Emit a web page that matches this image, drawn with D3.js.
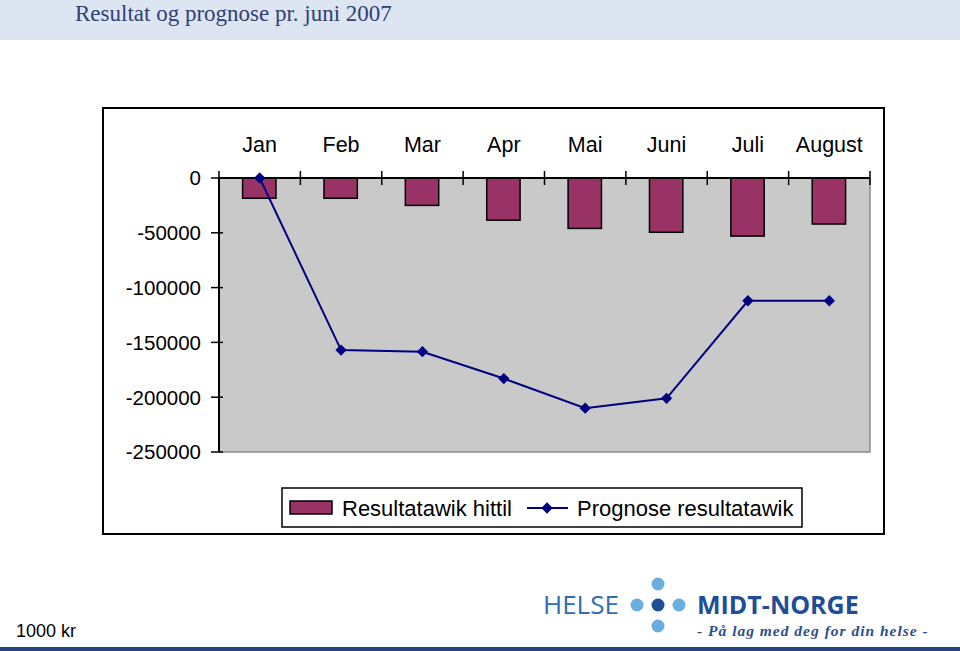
<!DOCTYPE html>
<html><head><meta charset="utf-8">
<script src="https://cdn.jsdelivr.net/npm/d3@7"></script>
<style>body{margin:0;background:#fff}svg{display:block}</style>
</head><body>
<script>
const months = ["Jan","Feb","Mar","Apr","Mai","Juni","Juli","August"];
const resultatHittil = [-18500,-18500,-25000,-38500,-46000,-49500,-53000,-42000];
const prognose = [0,-157000,-158500,-183000,-210000,-201000,-112000,-112000];
const yTicks = [0,-50000,-100000,-150000,-200000,-250000];
const seriesNames = ["Resultatawik hittil","Prognose resultatawik"];

const W=960,H=651;
const svg=d3.select("body").append("svg").attr("width",W).attr("height",H);

// header band
svg.append("rect").attr("x",0).attr("y",0).attr("width",W).attr("height",40).attr("fill","#dde5f3");
svg.append("text").attr("x",75).attr("y",21).attr("font-family","Liberation Serif, serif")
  .attr("font-size",23).attr("fill","#2f3f72").text("Resultat og prognose pr. juni 2007");

// chart frame
svg.append("rect").attr("x",103).attr("y",108).attr("width",781).attr("height",426)
  .attr("fill","#fff").attr("stroke","#000").attr("stroke-width",2);

const L=219,R=870,T=178,B=452;
const x=d3.scaleBand().domain(months).range([L,R]).padding(0);
const y=d3.scaleLinear().domain([0,-250000]).range([T,B]);
const bw=x.bandwidth();

// plot area
svg.append("rect").attr("x",L).attr("y",T).attr("width",R-L).attr("height",B-T).attr("fill","#c9c9c9");
svg.append("path").attr("d",`M${R},${T}V${B}H${L}`).attr("fill","none").attr("stroke","#8a8a8a").attr("stroke-width",1.5);

// bars
svg.selectAll("rect.bar").data(months).enter().append("rect").attr("class","bar")
  .attr("x",d=>x(d)+bw*0.29).attr("width",bw*0.41)
  .attr("y",y(0)).attr("height",(d,i)=>y(resultatHittil[i])-y(0))
  .attr("fill","#993366").attr("stroke","#000").attr("stroke-width",1.5);

// axes
svg.append("line").attr("x1",L).attr("x2",L).attr("y1",T).attr("y2",B).attr("stroke","#000").attr("stroke-width",2);
svg.append("line").attr("x1",L).attr("x2",R).attr("y1",y(0)).attr("y2",y(0)).attr("stroke","#000").attr("stroke-width",2);
const xb=months.map(m=>x(m)).concat([R]);
svg.selectAll("line.xt").data(xb).enter().append("line")
  .attr("x1",d=>d).attr("x2",d=>d).attr("y1",y(0)-7).attr("y2",y(0)+7).attr("stroke","#000").attr("stroke-width",1.5);
svg.selectAll("line.yt").data(yTicks).enter().append("line")
  .attr("x1",L-8).attr("x2",L+4).attr("y1",d=>y(d)).attr("y2",d=>y(d)).attr("stroke","#000").attr("stroke-width",1.5);
svg.selectAll("text.yl").data(yTicks).enter().append("text")
  .attr("x",L-18).attr("y",d=>y(d)).attr("dy","0.36em").attr("text-anchor","end")
  .attr("font-family","Liberation Sans, Arial, sans-serif").attr("font-size",20.5).attr("fill","#000").text(d=>d);
svg.selectAll("text.xl").data(months).enter().append("text")
  .attr("x",d=>x(d)+bw/2).attr("y",152).attr("text-anchor","middle")
  .attr("font-family","Liberation Sans, Arial, sans-serif").attr("font-size",21.5).attr("fill","#000").text(d=>d);

// line
const line=d3.line().x((d,i)=>x(months[i])+bw/2).y(d=>y(d));
svg.append("path").attr("d",line(prognose)).attr("fill","none").attr("stroke","#000080").attr("stroke-width",2);
const diamond=d3.symbol().type(d3.symbolSquare).size(64);
svg.selectAll("path.pt").data(prognose).enter().append("path")
  .attr("transform",(d,i)=>`translate(${x(months[i])+bw/2},${y(d)}) rotate(45)`).attr("d",diamond).attr("fill","#000080");

// legend
const lg=svg.append("g");
lg.append("rect").attr("x",282).attr("y",488).attr("width",520).attr("height",39).attr("fill","#fff").attr("stroke","#000").attr("stroke-width",1.5);
lg.append("rect").attr("x",290).attr("y",501).attr("width",42).attr("height",13).attr("fill","#993366").attr("stroke","#000").attr("stroke-width",1.5);
lg.append("text").attr("x",342).attr("y",516).attr("font-family","Liberation Sans, Arial, sans-serif").attr("font-size",22).text(seriesNames[0]);
lg.append("line").attr("x1",527).attr("x2",568).attr("y1",508).attr("y2",508).attr("stroke","#000080").attr("stroke-width",2);
lg.append("path").attr("transform","translate(547,508) rotate(45)").attr("d",diamond).attr("fill","#000080");
lg.append("text").attr("x",577).attr("y",516).attr("font-family","Liberation Sans, Arial, sans-serif").attr("font-size",22).text(seriesNames[1]);

// footer
svg.append("text").attr("x",16).attr("y",637).attr("font-family","Liberation Sans, Arial, sans-serif").attr("font-size",18).text("1000 kr");
svg.append("rect").attr("x",0).attr("y",647).attr("width",W).attr("height",4).attr("fill","#24457f");

// logo
svg.append("text").attr("x",543).attr("y",614).attr("font-family","Open Sans, sans-serif").attr("font-size",26).attr("fill","#2f6db5").text("HELSE");
[[637,605,"#6aaee0"],[658,605,"#1f4e96"],[679,605,"#6aaee0"],[658,584,"#6aaee0"],[658,626,"#6aaee0"]].forEach(c=>{
  svg.append("circle").attr("cx",c[0]).attr("cy",c[1]).attr("r",6.5).attr("fill",c[2]);
});
svg.append("text").attr("x",697).attr("y",614).attr("font-family","Open Sans, sans-serif").attr("font-weight","bold").attr("font-size",25).attr("fill","#1f4e96").text("MIDT-NORGE");
svg.append("text").attr("x",697).attr("y",636).attr("font-family","Liberation Serif, serif").attr("font-style","italic").attr("font-weight","bold").attr("font-size",15.5).attr("fill","#2c4f8c").attr("letter-spacing",1).text("- På lag med deg for din helse -");
</script>
</body></html>
